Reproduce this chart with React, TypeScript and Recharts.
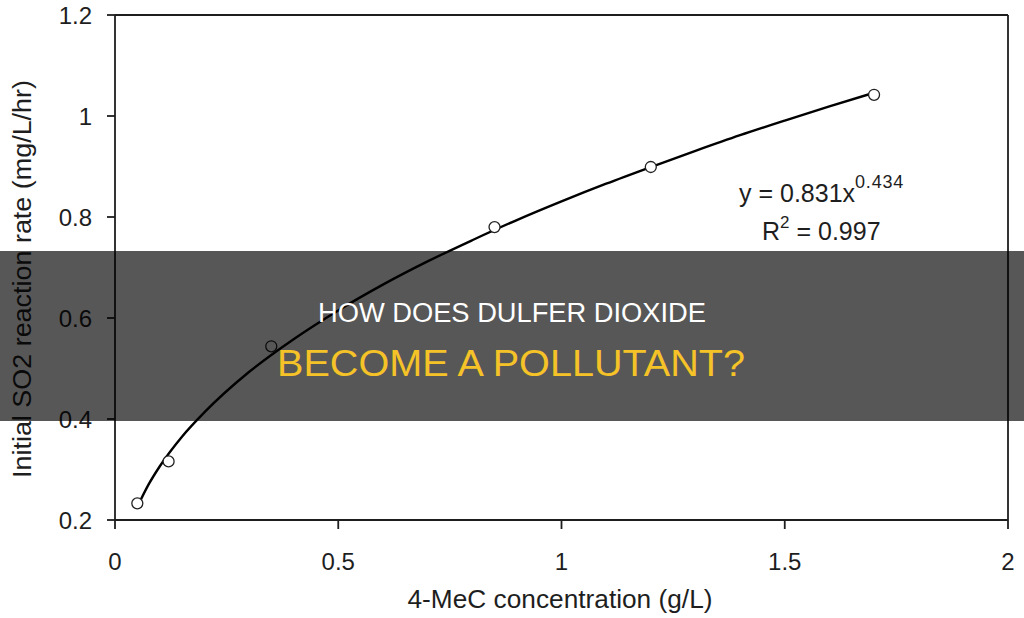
import React from 'react';
import { ComposedChart, XAxis, YAxis, Line, Scatter, ReferenceLine } from 'recharts';

// measured data points (4-MeC concentration g/L, initial SO2 rate mg/L/hr)
const concentrations = [0.05, 0.12, 0.35, 0.85, 1.2, 1.7];
const rates = [0.233, 0.316, 0.544, 0.78, 0.899, 1.042];

// trend curve
const curveX = [0.05, 0.075, 0.1, 0.15, 0.2, 0.3, 0.4, 0.5, 0.6, 0.7, 0.8, 0.9, 1.0, 1.1, 1.2, 1.3, 1.4, 1.5, 1.6, 1.7];
const curveY = [0.226, 0.27, 0.306, 0.365, 0.413, 0.493, 0.558, 0.615, 0.666, 0.712, 0.754, 0.794, 0.831, 0.866, 0.899, 0.931, 0.962, 0.991, 1.019, 1.046];

const xTicks = [0, 0.5, 1, 1.5, 2];
const yTicks = [0.2, 0.4, 0.6, 0.8, 1, 1.2];

const xTitle = '4-MeC concentration (g/L)';
const yTitle = 'Initial SO2 reaction rate (mg/L/hr)';
const titleLine1 = 'HOW DOES DULFER DIOXIDE';
const titleLine2 = 'BECOME A POLLUTANT?';

const points = concentrations.map((x, i) => ({ x, y: rates[i] }));
const curve = curveX.map((x, i) => ({ x, y: curveY[i] }));

const FONT = '"Liberation Sans", Arial, sans-serif';
const AX = '#1e1e1e';

const Circle = (props: any) => {
  const { cx, cy } = props;
  if (cx == null || cy == null) return null;
  return <circle cx={cx} cy={cy} r={5.5} fill="#fff" stroke="#222" strokeWidth={1.3} />;
};

const fmt = (v: number) => String(v);

export default function App() {
  return (
    <div style={{ position: 'absolute', left: 0, top: 0, width: 1024, height: 618, background: '#fff', overflow: 'hidden' }}>
      <ComposedChart width={1024} height={618} margin={{ top: 15, right: 16, left: 0, bottom: 0 }}>
        <XAxis
          type="number"
          dataKey="x"
          domain={[0, 2]}
          ticks={xTicks}
          tickFormatter={fmt}
          height={98}
          tickSize={9}
          tickMargin={24}
          axisLine={{ stroke: AX, strokeWidth: 1.8 }}
          tickLine={{ stroke: AX, strokeWidth: 1.8 }}
          tick={{ fill: AX, fontSize: 24, fontFamily: FONT }}
          allowDataOverflow
        />
        <YAxis
          type="number"
          domain={[0.2, 1.2]}
          ticks={yTicks}
          tickFormatter={fmt}
          width={115}
          tickSize={8}
          tickMargin={15}
          axisLine={{ stroke: AX, strokeWidth: 1.8 }}
          tickLine={{ stroke: AX, strokeWidth: 1.8 }}
          tick={{ fill: AX, fontSize: 24, fontFamily: FONT }}
          allowDataOverflow
        />
        <ReferenceLine y={1.2} stroke={AX} strokeWidth={1.8} />
        <ReferenceLine x={2} stroke={AX} strokeWidth={1.8} />
        <Line data={curve} dataKey="y" type="monotone" stroke="#000" strokeWidth={2.4} dot={false} isAnimationActive={false} />
        <Scatter data={points} dataKey="y" shape={<Circle />} isAnimationActive={false} />
      </ComposedChart>
      <svg width={1024} height={618} style={{ position: 'absolute', left: 0, top: 0, pointerEvents: 'none' }}>
        <text x={560} y={608} textAnchor="middle" fontSize={25} fontFamily={FONT} fill={AX} textLength={305} lengthAdjust="spacingAndGlyphs">{xTitle}</text>
        <text x={31} y={279} textAnchor="middle" fontSize={25} fontFamily={FONT} fill={AX} transform="rotate(-90, 31, 279)" textLength={398} lengthAdjust="spacingAndGlyphs">{yTitle}</text>
        <text x={739} y={202} fontSize={25} fontFamily={FONT} fill={AX}>
          y = 0.831x<tspan dy={-14} fontSize={18} letterSpacing={0.8}>0.434</tspan>
        </text>
        <text x={762} y={240} fontSize={25} fontFamily={FONT} fill={AX}>
          R<tspan dy={-12} fontSize={17}>2</tspan><tspan dy={12}> = 0.997</tspan>
        </text>
        <rect x={0} y={251} width={1024} height={170} fill="rgba(0,0,0,0.66)" />
        <text x={512} y={322} textAnchor="middle" fontSize={27} fontFamily={FONT} fill="#ffffff" textLength={388} lengthAdjust="spacingAndGlyphs">{titleLine1}</text>
        <text x={511} y={376} textAnchor="middle" fontSize={37} fontFamily={FONT} fill="#f5c328" textLength={468} lengthAdjust="spacingAndGlyphs">{titleLine2}</text>
      </svg>
    </div>
  );
}
